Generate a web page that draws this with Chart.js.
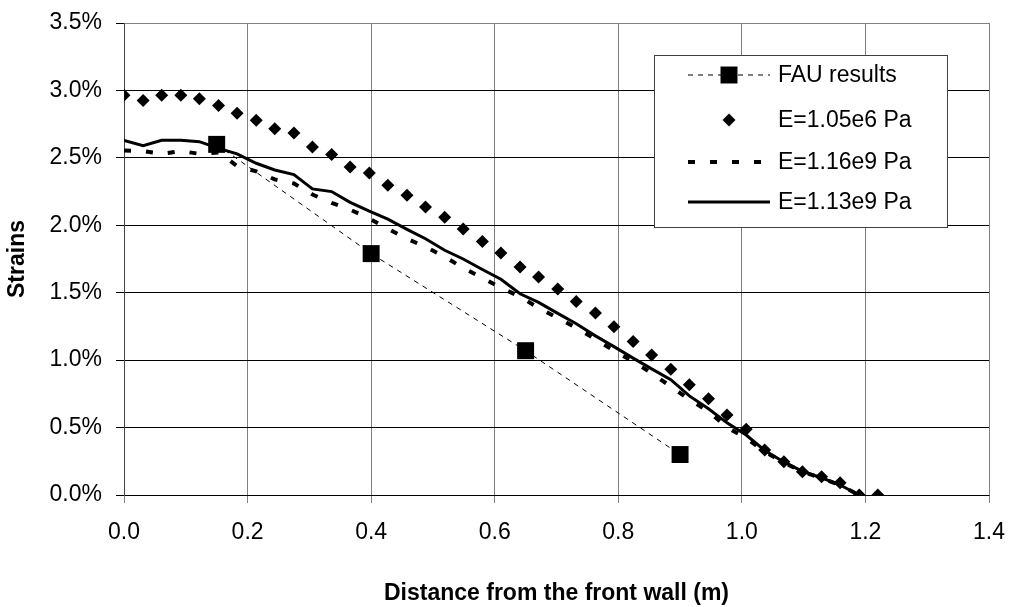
<!DOCTYPE html>
<html>
<head>
<meta charset="utf-8">
<title>Strains vs distance from the front wall</title>
<script src="https://cdn.jsdelivr.net/npm/chart.js@4.4.1/dist/chart.umd.min.js"></script>
<style>
  html, body { margin: 0; padding: 0; background: #fff; }
  canvas { display: block; }
</style>
</head>
<body>
<canvas id="strainChart" width="1010" height="607"></canvas>
<script>
// Distance from the front wall (m) of the model output points
const modelX = [0.000, 0.031, 0.061, 0.092, 0.122, 0.153, 0.183, 0.214, 0.244, 0.275,
                0.305, 0.336, 0.366, 0.397, 0.427, 0.458, 0.488, 0.519, 0.549, 0.580,
                0.610, 0.641, 0.671, 0.702, 0.732, 0.763, 0.793, 0.824, 0.854, 0.885,
                0.915, 0.946, 0.976, 1.007, 1.037, 1.068, 1.098, 1.129, 1.159, 1.190,
                1.220];

// FAU measurements
const fauX = [0.15, 0.40, 0.65, 0.90];
const fauStrain = [2.60, 1.79, 1.07, 0.30];

// Strains (%) - E=1.05e6 Pa (diamonds)
const strainE105e6 = [2.965, 2.925, 2.965, 2.965, 2.938, 2.888, 2.830, 2.778, 2.715, 2.685,
                      2.581, 2.524, 2.432, 2.388, 2.296, 2.222, 2.136, 2.059, 1.972, 1.880,
                      1.794, 1.690, 1.616, 1.527, 1.435, 1.349, 1.247, 1.138, 1.039, 0.933,
                      0.817, 0.713, 0.594, 0.488, 0.334, 0.247, 0.173, 0.136, 0.091, 0.000,
                      0.000];

// Strains (%) - E=1.16e9 Pa (thick dashed)
const strainE116e9 = [2.555, 2.550, 2.530, 2.550, 2.530, 2.540, 2.440, 2.400, 2.340, 2.310,
                      2.228, 2.166, 2.116, 2.050, 1.975, 1.900, 1.840, 1.767, 1.683, 1.610,
                      1.537, 1.470, 1.387, 1.313, 1.239, 1.155, 1.070, 0.990, 0.903, 0.805,
                      0.707, 0.620, 0.500, 0.422, 0.320, 0.240, 0.172, 0.125, 0.072, 0.000];

// Strains (%) - E=1.13e9 Pa (solid)
const strainE113e9 = [2.630, 2.590, 2.630, 2.630, 2.620, 2.570, 2.530, 2.460, 2.410, 2.376,
                      2.270, 2.250, 2.170, 2.105, 2.045, 1.970, 1.900, 1.815, 1.750, 1.672,
                      1.600, 1.492, 1.428, 1.347, 1.270, 1.180, 1.100, 1.015, 0.935, 0.855,
                      0.735, 0.640, 0.535, 0.445, 0.330, 0.245, 0.175, 0.128, 0.074, 0.000];

const seriesLabels = ['FAU results', 'E=1.05e6 Pa', 'E=1.16e9 Pa', 'E=1.13e9 Pa'];
const xTickValues = [0.0, 0.2, 0.4, 0.6, 0.8, 1.0, 1.2, 1.4];
const yTickValues = [0.0, 0.5, 1.0, 1.5, 2.0, 2.5, 3.0, 3.5];

const FONT = "'Liberation Sans', Arial, sans-serif";

function toPoints(xs, ys) {
  return ys.map((y, i) => ({ x: xs[i], y: y }));
}

// Excel style legend box with line + marker samples
const legendPlugin = {
  id: 'excelLegend',
  afterDraw(chart) {
    const ctx = chart.ctx;
    const box = { left: 654.5, top: 55.5, right: 947.5, bottom: 227.5 };
    const rows = [75, 120, 162, 202];
    const lineStart = 688, lineEnd = 770, markX = 729, textX = 778;

    ctx.save();
    ctx.fillStyle = '#fff';
    ctx.fillRect(box.left, box.top, box.right - box.left, box.bottom - box.top);
    ctx.strokeStyle = '#404040';
    ctx.lineWidth = 1;
    ctx.strokeRect(box.left, box.top, box.right - box.left, box.bottom - box.top);

    chart.data.datasets.forEach((ds, i) => {
      const y = rows[i];
      if (ds.showLine !== false) {
        ctx.save();
        ctx.strokeStyle = ds.borderColor;
        ctx.lineWidth = ds.borderWidth;
        ctx.setLineDash(ds.borderDash || []);
        ctx.beginPath();
        ctx.moveTo(lineStart, y);
        ctx.lineTo(lineEnd, y);
        ctx.stroke();
        ctx.restore();
      }
      if (ds.pointRadius > 0) {
        const r = ds.pointRadius;
        ctx.fillStyle = '#000';
        ctx.beginPath();
        if (ds.pointStyle === 'rect') {
          const s = r * Math.SQRT1_2;
          ctx.rect(markX - s, y - s, 2 * s, 2 * s);
        } else {
          ctx.moveTo(markX - r, y);
          ctx.lineTo(markX, y - r);
          ctx.lineTo(markX + r, y);
          ctx.lineTo(markX, y + r);
          ctx.closePath();
        }
        ctx.fill();
      }
      ctx.fillStyle = '#000';
      ctx.font = '23px ' + FONT;
      ctx.textBaseline = 'middle';
      ctx.textAlign = 'left';
      ctx.fillText(ds.label, textX, y + 1);
    });
    ctx.restore();
  }
};

const chart = new Chart(document.getElementById('strainChart'), {
  type: 'scatter',
  data: {
    datasets: [
      {
        label: seriesLabels[0],
        data: toPoints(fauX, fauStrain),
        showLine: true,
        borderColor: '#000',
        borderWidth: 1,
        borderDash: [5, 5],
        pointStyle: 'rect',
        pointRadius: 12,
        pointBackgroundColor: '#000',
        pointBorderColor: '#000',
        pointBorderWidth: 0
      },
      {
        label: seriesLabels[1],
        data: toPoints(modelX, strainE105e6),
        showLine: false,
        pointStyle: 'rectRot',
        pointRadius: 6.5,
        pointBackgroundColor: '#000',
        pointBorderColor: '#000',
        pointBorderWidth: 0
      },
      {
        label: seriesLabels[2],
        data: toPoints(modelX, strainE116e9),
        showLine: true,
        borderColor: '#000',
        borderWidth: 4,
        borderDash: [7, 15],
        borderCapStyle: 'butt',
        pointRadius: 0
      },
      {
        label: seriesLabels[3],
        data: toPoints(modelX, strainE113e9),
        showLine: true,
        borderColor: '#000',
        borderWidth: 3,
        pointRadius: 0
      }
    ]
  },
  options: {
    responsive: false,
    animation: false,
    layout: { padding: { left: 0, top: 23, right: 21, bottom: 0 } },
    plugins: {
      legend: { display: false },
      tooltip: { enabled: false }
    },
    elements: { line: { tension: 0, fill: false } },
    scales: {
      x: {
        type: 'linear',
        min: 0,
        max: 1.4,
        afterBuildTicks: (scale) => { scale.ticks = xTickValues.map(v => ({ value: v })); },
        afterFit: (scale) => {
          scale.height = 112;
          scale.paddingLeft = 0;
          scale.paddingRight = 0;
        },
        grid: { color: '#808080', lineWidth: 1, tickLength: 8, tickColor: '#808080' },
        border: { color: '#000', width: 1 },
        ticks: {
          color: '#000',
          font: { family: FONT, size: 23 },
          padding: 16,
          maxRotation: 0,
          callback: (v) => Number(v).toFixed(1)
        },
        title: {
          display: true,
          text: 'Distance from the front wall (m)',
          color: '#000',
          font: { family: FONT, size: 23, weight: 'bold' },
          padding: { top: 0, bottom: 0 }
        }
      },
      y: {
        type: 'linear',
        min: 0,
        max: 3.5,
        afterBuildTicks: (scale) => { scale.ticks = yTickValues.map(v => ({ value: v })); },
        afterFit: (scale) => {
          scale.width = 124;
          scale.paddingTop = 0;
          scale.paddingBottom = 0;
        },
        grid: {
          color: (c) => (c.tick && c.tick.value === 3.5 ? '#808080' : '#000'),
          lineWidth: 1,
          tickLength: 8,
          tickColor: '#000'
        },
        border: { color: '#404040', width: 1 },
        ticks: {
          color: '#000',
          font: { family: FONT, size: 23 },
          padding: 14,
          callback: (v) => Number(v).toFixed(1) + '%'
        },
        title: {
          display: true,
          text: 'Strains',
          color: '#000',
          font: { family: FONT, size: 23, weight: 'bold' },
          padding: { top: 4, bottom: 0 }
        }
      }
    }
  },
  plugins: [legendPlugin, {
    id: 'plotBorder',
    afterDatasetsDraw(c) {
      // grey frame on the top and right side of the plot area
      const a = c.chartArea;
      const ctx = c.ctx;
      ctx.save();
      ctx.strokeStyle = '#808080';
      ctx.lineWidth = 1;
      ctx.beginPath();
      ctx.moveTo(Math.round(a.left) + 0.5, Math.round(a.top) + 0.5);
      ctx.lineTo(Math.round(a.right) + 0.5, Math.round(a.top) + 0.5);
      ctx.lineTo(Math.round(a.right) + 0.5, Math.round(a.bottom) + 0.5);
      ctx.stroke();
      ctx.restore();
    }
  }]
});
</script>
</body>
</html>
